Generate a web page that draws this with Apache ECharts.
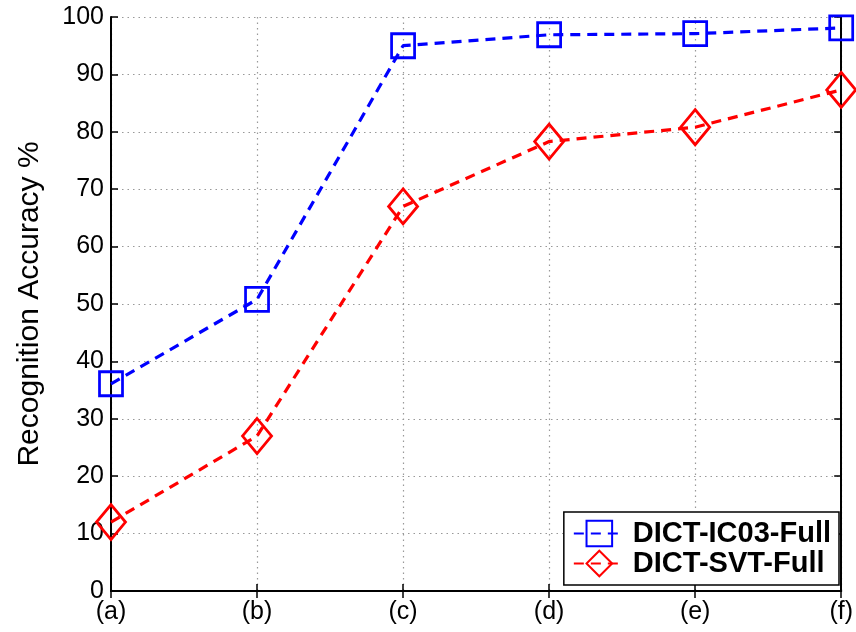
<!DOCTYPE html>
<html>
<head>
<meta charset="utf-8">
<script src="https://cdn.jsdelivr.net/npm/echarts@6/dist/echarts.min.js"></script>
<style>
  html, body { margin: 0; padding: 0; background: #fff; }
  #main { width: 856px; height: 632px; }
</style>
</head>
<body>
<div id="main"></div>
<script>
// values
var categories = ['(a)', '(b)', '(c)', '(d)', '(e)', '(f)'];
var ic03Full = [36.1, 50.8, 95.0, 96.9, 97.1, 98.1];
var svtFull = [12.0, 27.0, 67.0, 78.3, 80.8, 87.3];
var yTicks = [0, 10, 20, 30, 40, 50, 60, 70, 80, 90, 100];

var FONT = '"Liberation Sans", Arial, Helvetica, sans-serif';
var BLUE = '#0000ff';
var RED = '#ff0000';

var chart = echarts.init(document.getElementById('main'));

var gridLine = { show: true, lineStyle: { color: '#999', type: [1.5, 4], width: 1.2 } };
var frameLine = { show: true, lineStyle: { color: '#000', width: 2 } };

chart.setOption({
  animation: false,
  backgroundColor: '#fff',
  textStyle: { fontFamily: FONT },
  grid: { left: 111, right: 12, top: 17, bottom: 41, containLabel: false },
  legend: {
    orient: 'vertical',
    right: 17,
    bottom: 47,
    padding: [7, 8, 7, 9],
    itemWidth: 51,
    itemHeight: 32,
    itemGap: 1,
    backgroundColor: '#fff',
    borderColor: '#000',
    borderWidth: 1.5,
    borderRadius: 0,
    textStyle: { fontFamily: FONT, fontSize: 29, fontWeight: 'bold', color: '#000', padding: [0, 0, 0, 3] },
    data: ['DICT-IC03-Full', 'DICT-SVT-Full']
  },
  xAxis: [{
    type: 'category',
    data: categories,
    boundaryGap: false,
    axisLine: frameLine,
    axisTick: { show: true, inside: true, length: 7, lineStyle: { color: '#000', width: 1.5 } },
    axisLabel: { color: '#000', fontSize: 25, fontFamily: FONT, margin: 9 },
    splitLine: gridLine
  }, {
    type: 'category',
    data: categories,
    position: 'top',
    boundaryGap: false,
    axisLine: frameLine,
    axisTick: { show: true, inside: true, length: 7, lineStyle: { color: '#000', width: 1.5 } },
    axisLabel: { show: false },
    splitLine: { show: false }
  }],
  yAxis: [{
    type: 'value',
    min: yTicks[0],
    max: yTicks[yTicks.length - 1],
    interval: 10,
    name: 'Recognition Accuracy %',
    nameLocation: 'middle',
    nameGap: 66,
    nameTextStyle: { color: '#000', fontSize: 30, fontFamily: FONT },
    axisLine: frameLine,
    axisTick: { show: true, inside: true, length: 7, lineStyle: { color: '#000', width: 1.5 } },
    axisLabel: { color: '#000', fontSize: 25, fontFamily: FONT, margin: 7 },
    splitLine: gridLine
  }, {
    type: 'value',
    position: 'right',
    min: yTicks[0],
    max: yTicks[yTicks.length - 1],
    interval: 10,
    axisLine: frameLine,
    axisTick: { show: true, inside: true, length: 7, lineStyle: { color: '#000', width: 1.5 } },
    axisLabel: { show: false },
    splitLine: { show: false }
  }],
  series: [{
    name: 'DICT-IC03-Full',
    type: 'line',
    data: ic03Full,
    symbol: 'rect',
    symbolSize: [23, 24],
    clip: false,
    lineStyle: { color: BLUE, width: 3.2, type: [10, 7] },
    itemStyle: { color: 'rgba(0,0,0,0)', borderColor: BLUE, borderWidth: 2.8 },
    z: 3
  }, {
    name: 'DICT-SVT-Full',
    type: 'line',
    data: svtFull,
    symbol: 'diamond',
    symbolSize: [29, 35],
    clip: false,
    lineStyle: { color: RED, width: 3.2, type: [10, 7] },
    itemStyle: { color: 'rgba(0,0,0,0)', borderColor: RED, borderWidth: 2.8 },
    z: 3
  }]
});
</script>
</body>
</html>
